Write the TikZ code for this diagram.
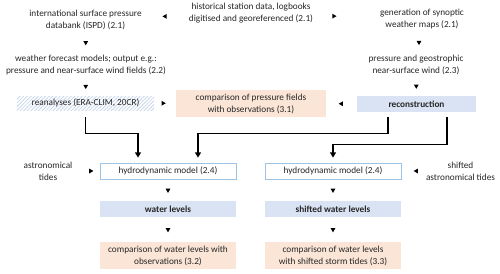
\documentclass[tikz,border=0pt]{standalone}
\usepackage{fontspec}
\setmainfont{Carlito}
\usetikzlibrary{arrows.meta, positioning, calc, shapes.geometric, patterns.meta}

\definecolor{boxblue}{HTML}{DAE3F3}
\definecolor{boxpeach}{HTML}{FBE5D6}
\definecolor{edgeblue}{HTML}{9DC3E6}
\definecolor{hatchblue}{HTML}{C9D7EC}
\definecolor{txtgray}{HTML}{262626}
\newcommand{\diagfont}{\fontsize{7.9}{10.2}\selectfont}

\tikzset{
  lbl/.style={align=center, text=txtgray, inner sep=1pt},
  bluebox/.style={lbl, fill=boxblue, minimum height=0.48cm, font=\diagfont\bfseries},
  peachbox/.style={lbl, fill=boxpeach, minimum height=0.81cm},
  modelbox/.style={lbl, draw=edgeblue, fill=white, line width=0.6pt,
    minimum width=4.08cm, minimum height=0.48cm},
  tri/.style={isosceles triangle, isosceles triangle apex angle=60,
    fill=black, inner sep=0pt, minimum size=3.6pt},
  triR/.style={tri, shape border rotate=0},
  triL/.style={tri, shape border rotate=180},
  triD/.style={tri, shape border rotate=270},
  flow/.style={line width=1.3pt, -{Triangle[length=4.5pt, width=5pt]}}
}

\begin{document}
\begin{tikzpicture}[x=0.03cm, y=-0.03cm, font=\diagfont]
\useasboundingbox (0,0) rectangle (500,273);

% upper part: station data and weather maps
\node[lbl] (hist) at (251,13) {historical station data, logbooks\\digitised and georeferenced (2.1)};
\node[lbl] (ispd) at (85.5,19.5) {international surface pressure\\databank (ISPD) (2.1)};
\node[lbl] (synop) at (422,19.5) {generation of synoptic\\weather maps (2.1)};
\node[lbl] (wfm) at (86,65.5) {weather forecast models; output e.g.:\\pressure and near-surface wind fields (2.2)};
\node[lbl] (geo) at (416,65) {pressure and geostrophic\\near-surface wind (2.3)};

% reanalyses and reconstruction
\node[lbl, minimum width=4.11cm, minimum height=0.42cm,
  pattern={Lines[angle=45, distance=2.2pt, line width=0.7pt]}, pattern color=hatchblue]
  (rean) at (85.5,103) {reanalyses (ERA-CLIM, 20CR)};
\node[peachbox, minimum width=4.5cm] (cmpP) at (251,103.5) {comparison of pressure fields\\with observations (3.1)};
\node[bluebox, minimum width=3.57cm] (recon) at (416.5,104) {reconstruction};

% hydrodynamic model runs
\node[lbl] (astro) at (48,171) {astronomical\\tides};
\node[modelbox] (hydA) at (168,171) {hydrodynamic model (2.4)};
\node[modelbox] (hydB) at (333,171) {hydrodynamic model (2.4)};
\node[lbl] (shast) at (460.5,171) {shifted\\astronomical tides};

\node[bluebox, minimum width=4.08cm] (watA) at (168,209) {water levels};
\node[bluebox, minimum width=4.08cm] (watB) at (333,209) {shifted water levels};
\node[peachbox, minimum width=4.08cm] (cmpA) at (168,255.5) {comparison of water levels with\\observations (3.2)};
\node[peachbox, minimum width=4.08cm] (cmpB) at (333,255.5) {comparison of water levels\\with shifted storm tides (3.3)};

% small triangles
\path (hist) -- node[triL]{} (ispd);
\path (hist) -- node[triR, pos=0.3]{} (synop);
\path (ispd) -- node[triD]{} (wfm);
\path (wfm) -- node[triD]{} (rean);
\path (synop) -- node[triD]{} (geo);
\path (geo) -- node[triD]{} (recon);
\path (rean) -- node[triR, pos=0.4]{} (cmpP);
\path (recon) -- node[triL]{} (cmpP);
\path (astro) -- node[triR, pos=0.65]{} (hydA);
\path (shast) -- node[triL, pos=0.35]{} (hydB);
\path (hydA) -- node[triD]{} (watA);
\path (hydB) -- node[triD]{} (watB);
\path (watA) -- node[triD]{} (cmpA);
\path (watB) -- node[triD]{} (cmpB);

% thick connectors
\draw[flow] ($(rean.south)+(0,7)$) |- ($(hydA.north)+(-30,-29)$) -- ($(hydA.north)+(-30,-5)$);
\draw[flow] ($(recon.south)+(-28.5,5)$) |- ($(hydA.north)+(30,-29)$) -- ($(hydA.north)+(30,-5)$);
\draw[flow] ($(recon.south)+(30.5,5)$) |- ($(hydB.north)+(0,-18)$) -- ($(hydB.north)+(0,-5)$);

\end{tikzpicture}
\end{document}
